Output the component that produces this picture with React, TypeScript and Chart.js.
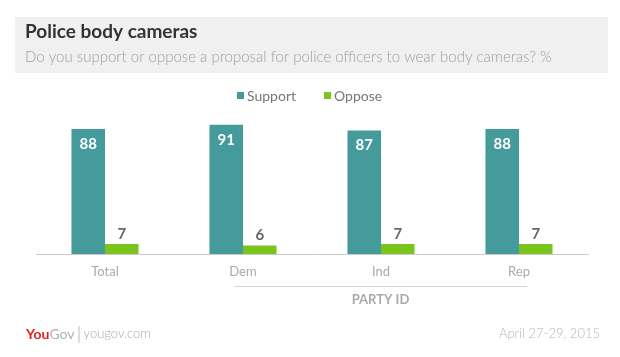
import React, { useEffect, useRef } from "react";
import { Chart, registerables } from "chart.js";

Chart.register(...registerables);

const categories = ["Total", "Dem", "Ind", "Rep"];
const supportValues = [88, 91, 87, 88];
const opposeValues = [7, 6, 7, 7];
const seriesNames = ["Support", "Oppose"];
const titleText = "Police body cameras";
const subtitleText = "Do you support or oppose a proposal for police officers to wear body cameras? %";
const groupLabel = "PARTY ID";
const dateText = "April 27-29, 2015";
const siteText = "yougov.com";

const TEAL = "#459a9c";
const GREEN = "#7ac51c";
const FONT = "Lato, 'Open Sans', sans-serif";

const decorPlugin = {
  id: "decor",
  beforeDraw(chart: any) {
    const ctx = chart.ctx;
    ctx.save();
    // header box
    ctx.fillStyle = "#f0f0f0";
    ctx.fillRect(15, 17, 593, 56);
    ctx.textBaseline = "alphabetic";
    ctx.textAlign = "left";
    ctx.fillStyle = "#333333";
    ctx.font = `bold 19px ${FONT}`;
    ctx.fillText(titleText, 25, 38);
    ctx.fillStyle = "#a0a0a0";
    ctx.font = `300 15px ${FONT}`;
    ctx.fillText(subtitleText, 25, 62);

    // legend
    const colors = [TEAL, GREEN];
    const xs = [237, 324];
    ctx.font = `14px ${FONT}`;
    ctx.textBaseline = "middle";
    for (let i = 0; i < 2; i++) {
      ctx.fillStyle = colors[i];
      ctx.fillRect(xs[i], 92, 7, 7);
      ctx.fillStyle = "#777777";
      ctx.fillText(seriesNames[i], xs[i] + 10, 96);
    }

    // footer
    ctx.textBaseline = "middle";
    ctx.font = `bold 14px ${FONT}`;
    ctx.fillStyle = "#e3221b";
    ctx.fillText("You", 26, 334);
    const w = ctx.measureText("You").width;
    ctx.fillStyle = "#b0b0b0";
    ctx.font = `14px ${FONT}`;
    ctx.fillText("Gov", 26 + w, 334);
    const w2 = ctx.measureText("Gov").width;
    const sepX = 26 + w + w2 + 4;
    ctx.strokeStyle = "#bbbbbb";
    ctx.lineWidth = 1;
    ctx.beginPath();
    ctx.moveTo(sepX + 0.5, 326);
    ctx.lineTo(sepX + 0.5, 343);
    ctx.stroke();
    ctx.fillStyle = "#aaaaaa";
    ctx.font = `300 13px ${FONT}`;
    ctx.fillText(siteText, sepX + 5, 334);
    ctx.textAlign = "right";
    ctx.fillStyle = "#b5b5b5";
    ctx.fillText(dateText, 600, 334);
    ctx.restore();
  },
  afterDatasetsDraw(chart: any) {
    const ctx = chart.ctx;
    ctx.save();
    ctx.textAlign = "center";
    ctx.textBaseline = "middle";
    ctx.font = `bold 15px ${FONT}`;
    const m0 = chart.getDatasetMeta(0);
    const m1 = chart.getDatasetMeta(1);
    m0.data.forEach((el: any, i: number) => {
      ctx.fillStyle = "#ffffff";
      ctx.fillText(String(supportValues[i]), el.x, el.y + 15);
    });
    m1.data.forEach((el: any, i: number) => {
      ctx.fillStyle = "#666666";
      ctx.fillText(String(opposeValues[i]), el.x, el.y - 10);
    });
    // group bracket
    const xs = chart.scales.x;
    const x1 = xs.getPixelForValue(1) - 9;
    const x2 = xs.getPixelForValue(3) + 8;
    ctx.strokeStyle = "#d6d6d6";
    ctx.lineWidth = 1;
    ctx.beginPath();
    ctx.moveTo(x1, 286.5);
    ctx.lineTo(x2, 286.5);
    ctx.stroke();
    ctx.fillStyle = "#aaaaaa";
    ctx.font = `bold 13px ${FONT}`;
    ctx.fillText(groupLabel, (x1 + x2) / 2, 300);
    ctx.restore();
  },
};

export default function App() {
  const ref = useRef<HTMLCanvasElement>(null);
  useEffect(() => {
    if (!ref.current) return;
    const chart = new Chart(ref.current, {
      type: "bar",
      data: {
        labels: categories,
        datasets: [
          { label: seriesNames[0], data: supportValues, backgroundColor: TEAL, categoryPercentage: 0.486, barPercentage: 1 },
          { label: seriesNames[1], data: opposeValues, backgroundColor: GREEN, categoryPercentage: 0.486, barPercentage: 1 },
        ],
      },
      options: {
        animation: false,
        responsive: false,
        devicePixelRatio: 1,
        layout: { padding: { top: 112, left: 36, right: 32, bottom: 73 } },
        plugins: { legend: { display: false }, tooltip: { enabled: false } },
        scales: {
          x: {
            grid: { display: false, drawTicks: false },
            border: { display: true, color: "#cccccc", width: 1 },
            ticks: { color: "#aaaaaa", font: { family: FONT, size: 13 }, padding: 10 },
            afterFit: (s: any) => { s.height = 30; },
          },
          y: { display: false, min: 0, max: 100 },
        },
      },
      plugins: [decorPlugin],
    });
    return () => chart.destroy();
  }, []);
  return (
    <div style={{ position: "fixed", left: 0, top: 0, width: 620, height: 357, background: "#fff" }}>
      <canvas ref={ref} width={620} height={357} style={{ display: "block", width: 620, height: 357 }} />
    </div>
  );
}
